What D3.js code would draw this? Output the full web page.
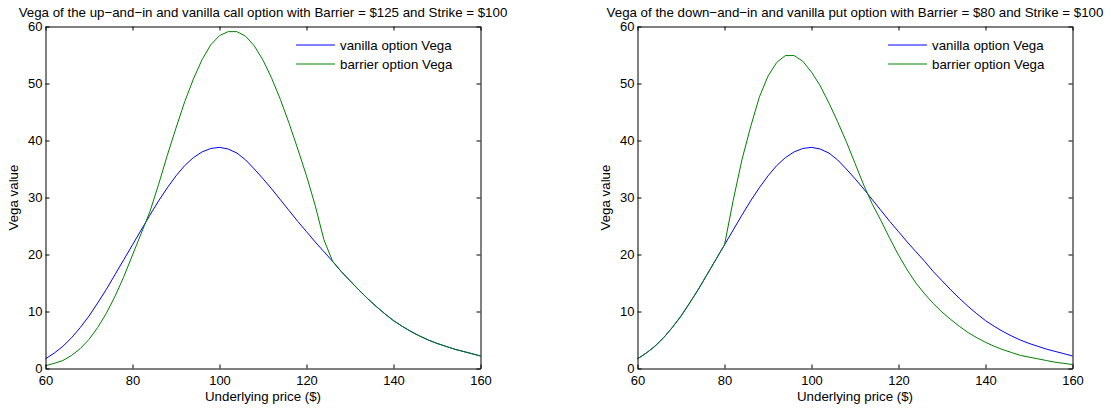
<!DOCTYPE html>
<html>
<head>
<meta charset="utf-8">
<script src="https://cdn.jsdelivr.net/npm/d3@7"></script>
<style>
  html, body { margin: 0; padding: 0; background: #fff; }
  svg { display: block; }
  text { font-family: "Liberation Sans", Arial, sans-serif; fill: #000; }
</style>
</head>
<body>
<script>
// Underlying price grid (in $)
const prices = [60, 62, 64, 66, 68, 70, 72, 74, 76, 78, 80, 82, 84, 86, 88, 90, 92, 94, 96, 98,
  100, 102, 104, 106, 108, 110, 112, 114, 116, 118, 120, 122, 124, 126, 128, 130, 132, 134, 136, 138,
  140, 142, 144, 146, 148, 150, 152, 154, 156, 158, 160];

// Vega of the vanilla option (same strike in both panels)
const vanillaVega = [1.7, 2.7, 3.9, 5.4, 7.2, 9.2, 11.5, 13.9, 16.5, 19.1, 21.7, 24.3, 26.9, 29.4, 31.7, 33.8, 35.6, 37.0, 38.0, 38.6,
  38.8, 38.5, 37.8, 36.6, 35.0, 33.3, 31.5, 29.6, 27.7, 25.8, 24.0, 22.2, 20.5, 18.8, 17.0, 15.4, 13.8, 12.3, 10.9, 9.6,
  8.4, 7.4, 6.5, 5.7, 5.0, 4.4, 3.9, 3.4, 3.0, 2.6, 2.2];

// Vega of the up-and-in call (barrier $125, strike $100)
const upInCallVega = [0.5, 0.9, 1.4, 2.3, 3.5, 5.1, 7.2, 9.7, 12.7, 16.1, 19.9, 23.7, 27.5, 32.3, 37.4, 42.2, 46.8, 50.8, 54.2, 56.8,
  58.4, 59.1, 59.1, 58.3, 56.6, 54.1, 50.9, 47.2, 43.0, 38.5, 33.8, 28.6, 22.6, 18.8, 17.0, 15.4, 13.8, 12.3, 10.9, 9.6,
  8.4, 7.4, 6.5, 5.7, 5.0, 4.4, 3.9, 3.4, 3.0, 2.6, 2.2];

// Vega of the down-and-in put (barrier $80, strike $100)
const downInPutVega = [1.7, 2.7, 3.9, 5.4, 7.2, 9.2, 11.5, 13.9, 16.5, 19.1, 21.7, 29.5, 36.6, 42.4, 47.6, 51.3, 53.7, 54.9, 54.9, 53.9,
  52.0, 49.6, 46.6, 43.3, 39.8, 36.0, 32.2, 28.8, 25.9, 22.8, 19.9, 17.3, 15.0, 13.1, 11.4, 9.9, 8.6, 7.4, 6.3, 5.4,
  4.6, 3.9, 3.3, 2.8, 2.3, 2.0, 1.7, 1.4, 1.1, 0.9, 0.7];

const xTicks = [60, 80, 100, 120, 140, 160];
const yTicks = [0, 10, 20, 30, 40, 50, 60];
const seriesNames = ["vanilla option Vega", "barrier option Vega"];
const titles = [
  "Vega of the up\u2212and\u2212in and vanilla call option with Barrier = $125 and Strike = $100",
  "Vega of the down\u2212and\u2212in and vanilla put option with Barrier = $80 and Strike = $100"
];
const xLabel = "Underlying price ($)";
const yLabel = "Vega value";

const W = 1111, H = 409;
const colors = ["#0000ff", "#008000"];
const tickFont = 13;
const labelFont = 13.3;

const svg = d3.select("body").append("svg")
  .attr("width", W).attr("height", H)
  .attr("viewBox", `0 0 ${W} ${H}`);
svg.append("rect").attr("width", W).attr("height", H).attr("fill", "#fff");

const panels = [
  { left: 45.5, right: 480.5, barrier: upInCallVega, title: titles[0] },
  { left: 637.5, right: 1072.5, barrier: downInPutVega, title: titles[1] }
];
const axTop = 26.5, axBottom = 368.5;

panels.forEach(p => {
  const x = d3.scaleLinear().domain([60, 160]).range([p.left, p.right]);
  const y = d3.scaleLinear().domain([0, 60]).range([axBottom, axTop]);
  const g = svg.append("g");
  const cx = (p.left + p.right) / 2;

  // data lines
  const line = d3.line().x((d, i) => x(prices[i])).y(d => y(d));
  [vanillaVega, p.barrier].forEach((vals, k) => {
    g.append("path")
      .datum(vals)
      .attr("d", line)
      .attr("fill", "none")
      .attr("stroke", colors[k])
      .attr("stroke-width", 1)
      .attr("stroke-linejoin", "round");
  });

  // axes with inward ticks on all four sides
  const styleAxis = sel => {
    sel.selectAll("path.domain").attr("stroke", "#000").attr("stroke-width", 1);
    sel.selectAll(".tick line").attr("stroke", "#000").attr("stroke-width", 1);
    sel.selectAll("text").attr("font-size", tickFont).attr("font-family", "Liberation Sans, Arial, sans-serif").attr("fill", "#000");
  };
  g.append("g").attr("transform", `translate(0,${axBottom})`)
    .call(d3.axisBottom(x).tickValues(xTicks).tickSize(-4).tickSizeOuter(0).tickPadding(7))
    .call(styleAxis);
  g.append("g").attr("transform", `translate(0,${axTop})`)
    .call(d3.axisTop(x).tickValues(xTicks).tickSize(-4).tickSizeOuter(0).tickFormat(""))
    .call(styleAxis);
  g.append("g").attr("transform", `translate(${p.left},0)`)
    .call(d3.axisLeft(y).tickValues(yTicks).tickSize(-4).tickSizeOuter(0).tickPadding(3))
    .call(styleAxis)
    .call(s => s.selectAll("text").attr("dy", "0.34em"));
  g.append("g").attr("transform", `translate(${p.right},0)`)
    .call(d3.axisRight(y).tickValues(yTicks).tickSize(-4).tickSizeOuter(0).tickFormat(""))
    .call(styleAxis);

  // title and axis labels
  g.append("text").attr("x", cx).attr("y", 16.5)
    .attr("text-anchor", "middle").attr("font-size", labelFont).text(p.title);
  g.append("text").attr("x", cx).attr("y", 401)
    .attr("text-anchor", "middle").attr("font-size", labelFont).text(xLabel);
  g.append("text")
    .attr("transform", `translate(${p.left - 27.5},${(axTop + axBottom) / 2}) rotate(-90)`)
    .attr("text-anchor", "middle").attr("font-size", labelFont).text(yLabel);

  // legend
  const lx = p.right - 184.5;
  seriesNames.forEach((name, k) => {
    const ly = 45 + k * 19;
    g.append("line")
      .attr("x1", lx).attr("x2", lx + 39)
      .attr("y1", ly).attr("y2", ly)
      .attr("stroke", colors[k]).attr("stroke-width", 1);
    g.append("text").attr("x", lx + 44).attr("y", ly + 4.8)
      .attr("font-size", labelFont).text(name);
  });
});
</script>
</body>
</html>
